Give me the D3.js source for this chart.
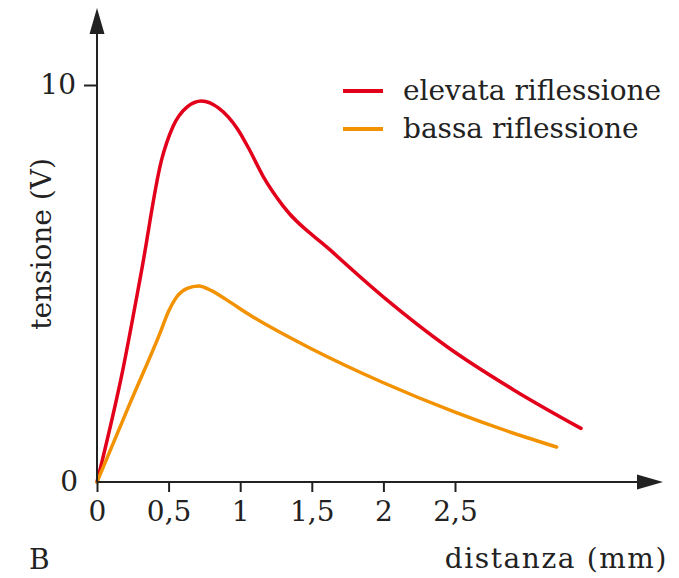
<!DOCTYPE html>
<html>
<head>
<meta charset="utf-8">
<script src="https://cdn.jsdelivr.net/npm/d3@7"></script>
<style>
  body { margin: 0; background: #fff; }
  text { font-family: "DejaVu Serif", serif; fill: #222; }
</style>
</head>
<body>
<svg width="679" height="578"></svg>
<script>
// distances (mm) and voltages (V)
const highX = [0, 0.18, 0.31, 0.45, 0.53, 0.63, 0.73, 0.85, 0.98, 1.06, 1.16, 1.3, 1.63, 2.02, 2.44, 2.91, 3.38];
const highY = [0, 2.82, 5.3, 8.1, 8.95, 9.45, 9.6, 9.42, 8.9, 8.4, 7.7, 6.95, 5.84, 4.6, 3.42, 2.32, 1.35];
const lowX = [0, 0.23, 0.44, 0.5, 0.56, 0.63, 0.71, 0.8, 0.9, 1.07, 1.5, 2.0, 2.5, 3.0, 3.21];
const lowY = [0, 1.98, 3.75, 4.3, 4.68, 4.88, 4.94, 4.82, 4.6, 4.2, 3.35, 2.5, 1.76, 1.12, 0.88];
const xTicks = [0, 0.5, 1, 1.5, 2, 2.5];
const xTickLabels = ["0", "0,5", "1", "1,5", "2", "2,5"];
const yTicks = [0, 10];
const seriesNames = ["elevata riflessione", "bassa riflessione"];
const colors = ["#e2001a", "#f39200"];

const svg = d3.select("svg");

const x = d3.scaleLinear().domain([0, 2.5]).range([97, 455]);
const y = d3.scaleLinear().domain([0, 10]).range([482, 85]);

const series = [
  highX.map((d, i) => [d, highY[i]]),
  lowX.map((d, i) => [d, lowY[i]])
];

const line = d3.line()
    .x(d => x(d[0]))
    .y(d => y(d[1]))
    .curve(d3.curveMonotoneX);

svg.selectAll("path.curve")
  .data(series)
  .enter().append("path")
    .attr("class", "curve")
    .attr("fill", "none")
    .attr("stroke", (d, i) => colors[i])
    .attr("stroke-width", 3.5)
    .attr("stroke-linecap", "round")
    .attr("d", line);

// axes
const xAxis = svg.append("g")
    .attr("transform", "translate(0," + y(0) + ")")
    .call(d3.axisBottom(x).tickValues(xTicks).tickSize(10).tickPadding(9)
      .tickFormat((d, i) => xTickLabels[i]));
xAxis.select(".domain").remove();
xAxis.selectAll(".tick line").attr("stroke", "#222").attr("stroke-width", 2);
xAxis.selectAll(".tick text").style("font-size", "28px").attr("fill", "#222");

const yAxis = svg.append("g")
    .attr("transform", "translate(" + x(0) + ",0)")
    .call(d3.axisLeft(y).tickValues(yTicks).tickSize(13).tickPadding(6));
yAxis.select(".domain").remove();
yAxis.selectAll(".tick line").attr("stroke", "#222").attr("stroke-width", 2)
    .attr("display", d => d === 0 ? "none" : null);
yAxis.selectAll(".tick text").style("font-size", "28px").attr("fill", "#222")
    .attr("x", d => d === 0 ? -19 : -21);

// axis lines with arrows
svg.append("line")
    .attr("x1", x(0)).attr("x2", 640)
    .attr("y1", y(0)).attr("y2", y(0))
    .attr("stroke", "#222").attr("stroke-width", 2);
svg.append("path")
    .attr("d", "M663," + y(0) + "L637," + (y(0) - 7.5) + "L637," + (y(0) + 7.5) + "Z")
    .attr("fill", "#222");
svg.append("line")
    .attr("x1", x(0)).attr("x2", x(0))
    .attr("y1", y(0)).attr("y2", 30)
    .attr("stroke", "#222").attr("stroke-width", 2);
svg.append("path")
    .attr("d", "M" + x(0) + ",8L" + (x(0) - 7.5) + ",34L" + (x(0) + 7.5) + ",34Z")
    .attr("fill", "#222");

// axis titles
svg.append("text")
    .attr("transform", "translate(51,244) rotate(-90)")
    .attr("text-anchor", "middle")
    .style("font-size", "28px")
    .text("tensione (V)");

svg.append("text")
    .attr("x", 668).attr("y", 568)
    .attr("text-anchor", "end")
    .style("font-size", "28px")
    .style("letter-spacing", "1.6px")
    .text("distanza (mm)");

svg.append("text")
    .attr("x", 29).attr("y", 569)
    .style("font-size", "28px")
    .text("B");

// legend
const legend = svg.selectAll("g.legend")
  .data(seriesNames)
  .enter().append("g")
    .attr("class", "legend")
    .attr("transform", (d, i) => "translate(343," + (91 + i * 38) + ")");
legend.append("line")
    .attr("x1", 0).attr("x2", 40)
    .attr("stroke", (d, i) => colors[i])
    .attr("stroke-width", 4);
legend.append("text")
    .attr("x", 60).attr("dy", "0.32em")
    .style("font-size", "28px")
    .text(d => d);
</script>
</body>
</html>
